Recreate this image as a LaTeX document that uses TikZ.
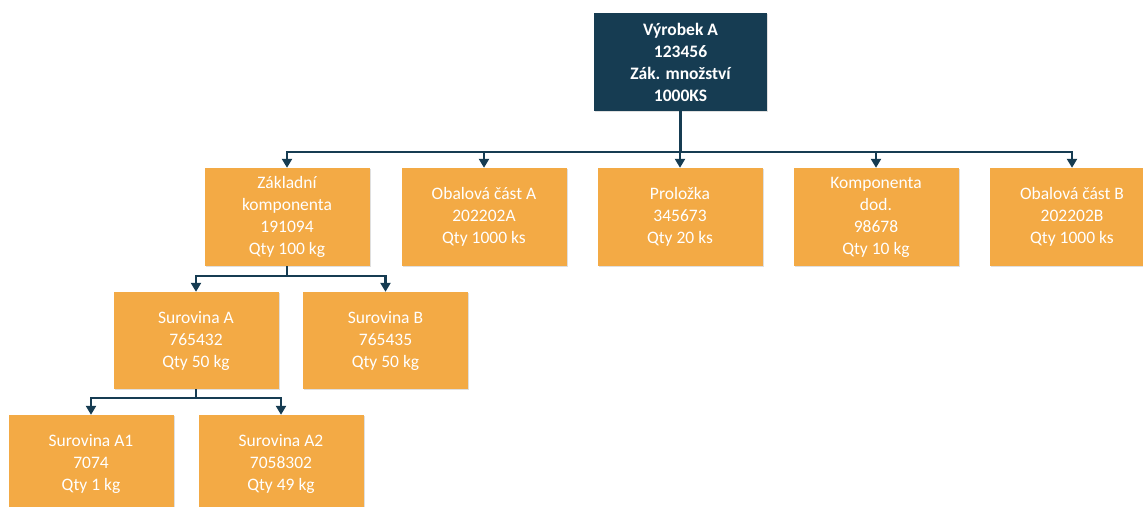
\documentclass[tikz,border=0pt]{standalone}
\usepackage{fontspec}
\setmainfont{Carlito}
\usetikzlibrary{arrows.meta,calc,shadows}
\definecolor{navy}{HTML}{163C52}
\definecolor{amber}{HTML}{F3AA45}
\begin{document}
\begin{tikzpicture}[x=1pt,y=1pt,
  boxbase/.style={rectangle, align=center, text=white, inner sep=0pt,
    font=\fontsize{17.5}{22}\selectfont,
    drop shadow={shadow xshift=1pt, shadow yshift=-1pt, opacity=0.25, fill=gray}},
  rootbox/.style={boxbase, fill=navy, minimum width=173pt, minimum height=98pt,
    font=\fontsize{17.5}{22}\selectfont\bfseries},
  partbox/.style={boxbase, fill=amber, minimum width=165pt, minimum height=98pt},
  conn/.style={draw=navy, line width=2.4pt, line join=miter},
  tip/.style={conn, -{Triangle[width=10pt,length=9pt]}}]
\useasboundingbox (0,0) rectangle (1143,-506);

% finished product
\node[rootbox] (root) at (680.5,-62) {Výrobek A\\123456\\Zák. množství\\1000KS};

% first level
\node[partbox] (zakl) at (287,-217) {Základní\\komponenta\\191094\\Qty 100 kg};
\node[partbox] (obala) at (484,-217) {Obalová část A\\202202A\\Qty 1000 ks};
\node[partbox] (prol) at (680,-217) {Proložka\\345673\\Qty 20 ks};
\node[partbox] (komp) at (876,-217) {Komponenta\\dod.\\98678\\Qty 10 kg};
\node[partbox] (obalb) at (1072,-217) {Obalová část B\\202202B\\Qty 1000 ks};

% second level
\node[partbox, minimum height=97pt] (surA) at (196,-340.5) {Surovina A\\765432\\Qty 50 kg};
\node[partbox, minimum height=97pt] (surB) at (385.5,-340.5) {Surovina B\\765435\\Qty 50 kg};

% third level
\node[partbox] (surA1) at (91,-464) {Surovina A1\\7074\\Qty 1 kg};
\node[partbox] (surA2) at (281,-464) {Surovina A2\\7058302\\Qty 49 kg};

% connectors
\foreach \c in {zakl,obala,prol,komp,obalb}
  \draw[tip] (root.south) |- ($(\c.north)+(0,16)$) -- (\c.north);
\foreach \c in {surA,surB}
  \draw[tip] (zakl.south) |- ($(\c.north)+(0,16)$) -- (\c.north);
\foreach \c in {surA1,surA2}
  \draw[tip] (surA.south) |- ($(\c.north)+(0,17)$) -- (\c.north);
\end{tikzpicture}
\end{document}
